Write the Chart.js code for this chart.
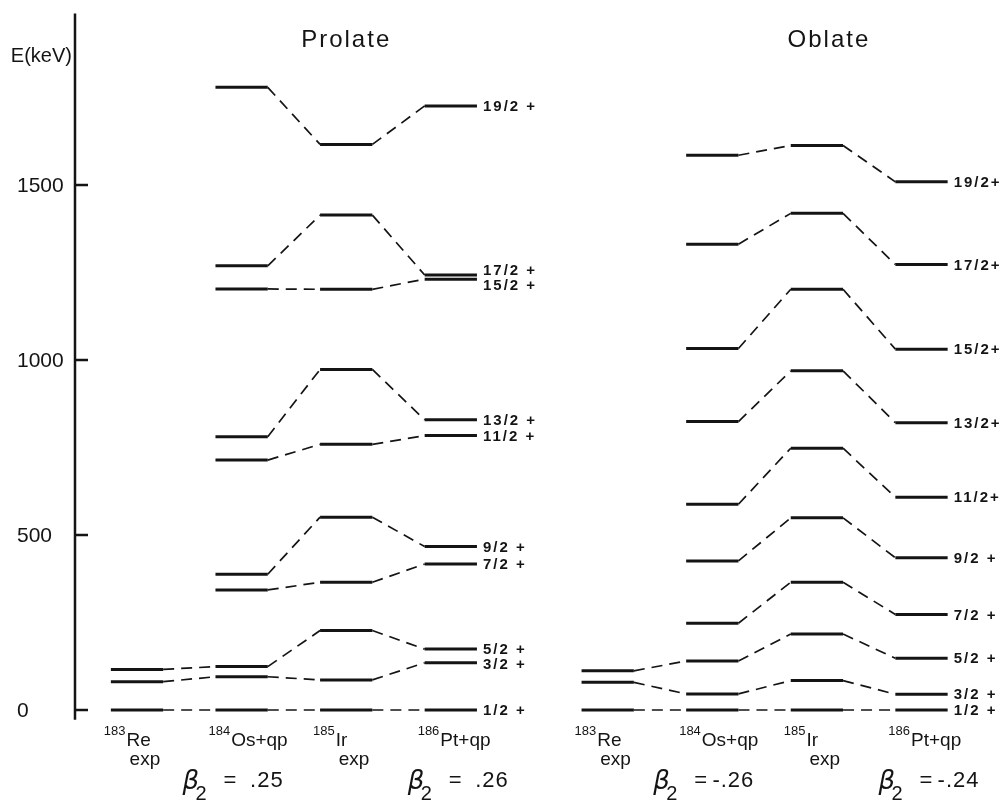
<!DOCTYPE html>
<html>
<head>
<meta charset="utf-8">
<title>Level systematics</title>
<script src="https://cdn.jsdelivr.net/npm/chart.js@4.4.0/dist/chart.umd.min.js"></script>
<style>
  html, body { margin: 0; padding: 0; background: #fff; }
  #wrap { position: relative; width: 1008px; height: 803px; }
</style>
</head>
<body>
<div id="wrap"><canvas id="levels"></canvas></div>
<script>
// ============================================================================
//  Level scheme: 183Re / 184Os+qp / 185Ir / 186Pt+qp, prolate vs oblate
// ============================================================================

// === Data (keV; null = level not shown) =====================================
const spins = ["1/2", "3/2", "5/2", "7/2", "9/2", "11/2", "13/2", "15/2", "17/2", "19/2"];
const prolateLabels = ["1/2 +", "3/2 +", "5/2 +", "7/2 +", "9/2 +", "11/2 +", "13/2 +", "15/2 +", "17/2 +", "19/2 +"];
const oblateLabels = ["1/2 +", "3/2 +", "5/2 +", "7/2 +", "9/2 +", "11/2+", "13/2+", "15/2+", "17/2+", "19/2+"];

const prolateRe = [0, 81, 116, null, null, null, null, null, null, null];
const prolateOs = [0, 95, 124, 343, 388, 714, 781, 1203, 1269, 1779];
const prolateIr = [0, 86, 227, 365, 551, 759, 973, 1202, 1414, 1616];
const prolatePt = [0, 135, 174, 417, 467, 784, 829, 1231, 1243, 1726];

const oblateRe = [0, 79, 112, null, null, null, null, null, null, null];
const oblateOs = [0, 46, 140, 248, 426, 588, 824, 1033, 1331, 1585];
const oblateIr = [0, 84, 217, 365, 549, 748, 969, 1202, 1419, 1613];
const oblatePt = [0, 45, 148, 273, 435, 608, 821, 1031, 1273, 1509];

const massNumbers = ["183", "184", "185", "186"];
const nuclei = ["Re", "Os+qp", "Ir", "Pt+qp"];
const nucleiNotes = ["exp", "", "exp", ""];

const prolateBetas = [".25", ".26"];
const oblateBetas = ["-.26", "-.24"];

const yTicks = [0, 500, 1000, 1500];
const axisRange = [-28, 1990];

// === Layout ==================================================================
const INK = "#141414";
const FONT = "'Liberation Sans', Arial, sans-serif";
const COL_HALF = 0.25;          // half width of a level bar (column units)
const X_MIN = -1.31, X_MAX = 8.327;
const Y_MIN = -265.7, Y_MAX = 2028.6;
const AXIS_X = -0.593;
const DASH = [11, 7];

const panels = [
  { title: "Prolate", titleX: 2.0, start: 0, columns: [prolateRe, prolateOs, prolateIr, prolatePt],
    labels: prolateLabels, betas: prolateBetas },
  { title: "Oblate", titleX: 6.615, start: 4.5, columns: [oblateRe, oblateOs, oblateIr, oblatePt],
    labels: oblateLabels, betas: oblateBetas },
];
const betaCols = [1, 3];
const betaNudge = [-59, -43];

// === Datasets: one polyline per spin and panel ===============================
function buildBands(panel) {
  return spins.map((spin, s) => {
    const pts = [];
    panel.columns.forEach((col, i) => {
      const e = col[s];
      if (e == null) return;
      const cx = panel.start + i;
      pts.push({ x: cx - COL_HALF, y: e }, { x: cx + COL_HALF, y: e });
    });
    return {
      label: panel.title + " " + spin,
      data: pts,
      borderColor: INK,
      borderWidth: 2.4,
      pointRadius: 0,
      fill: false,
      tension: 0,
      segment: {
        // even segments are the levels themselves, odd ones the connectors
        borderDash: (c) => (c.p0DataIndex % 2 ? DASH : []),
        borderWidth: (c) => (c.p0DataIndex % 2 ? 1.7 : 3),
      },
    };
  });
}

// === Spread labels that would collide ========================================
function spreadLabels(ys, gap) {
  const out = ys.slice();
  for (let it = 0; it < 40; it++) {
    for (let i = 1; i < out.length; i++) {
      const d = out[i - 1] - out[i];
      if (d < gap) {
        const push = (gap - d) / 2;
        out[i - 1] += push;
        out[i] -= push;
      }
    }
  }
  return out;
}

// === Decorations: axis, labels, titles =======================================
const decorPlugin = {
  id: "decor",
  afterDatasetsDraw(chart) {
    const { ctx, scales: { x, y } } = chart;
    ctx.save();
    ctx.fillStyle = INK;
    ctx.strokeStyle = INK;

    // energy axis
    const ax = x.getPixelForValue(AXIS_X);
    ctx.lineWidth = 2.5;
    ctx.beginPath();
    ctx.moveTo(ax, y.getPixelForValue(axisRange[0]));
    ctx.lineTo(ax, y.getPixelForValue(axisRange[1]));
    ctx.stroke();

    ctx.font = "21px " + FONT;
    ctx.textBaseline = "middle";
    ctx.textAlign = "left";
    yTicks.forEach((t) => {
      const py = y.getPixelForValue(t);
      ctx.beginPath();
      ctx.moveTo(ax, py);
      ctx.lineTo(ax + 13, py);
      ctx.stroke();
      ctx.fillText(String(t), ax - 58, py + 1);
    });

    ctx.textBaseline = "alphabetic";
    ctx.textAlign = "right";
    ctx.font = "20px " + FONT;
    ctx.fillText("E(keV)", ax - 3, 62);

    panels.forEach((panel) => {
      // title
      ctx.font = "24px " + FONT;
      ctx.textAlign = "center";
      ctx.letterSpacing = "2px";
      ctx.fillText(panel.title, x.getPixelForValue(panel.titleX), 47);

      // spin labels at the right of the last column
      const last = panel.columns[panel.columns.length - 1];
      const lx = x.getPixelForValue(panel.start + panel.columns.length - 1 + COL_HALF) + 6;
      const ys = spreadLabels(last.map((e) => y.getPixelForValue(e)), 15);
      ctx.font = "bold 15px " + FONT;
      ctx.textAlign = "left";
      ctx.textBaseline = "middle";
      ctx.letterSpacing = "2px";
      panel.labels.forEach((lab, s) => ctx.fillText(lab, lx, ys[s] + 1));

      // nucleus names under the columns
      ctx.textBaseline = "alphabetic";
      ctx.letterSpacing = "0px";
      nuclei.forEach((name, i) => {
        const left = x.getPixelForValue(panel.start + i - COL_HALF) - 7;
        ctx.font = "13px " + FONT;
        ctx.fillText(massNumbers[i], left, 735);
        const mx = left + ctx.measureText(massNumbers[i]).width + 1;
        ctx.font = "19px " + FONT;
        ctx.fillText(name, mx, 746);
        if (nucleiNotes[i]) ctx.fillText(nucleiNotes[i], mx + 3, 765);
      });

      // deformation parameters
      panel.betas.forEach((val, k) => {
        const x0 = x.getPixelForValue(panel.start + betaCols[k]) + betaNudge[k];
        ctx.textAlign = "left";
        ctx.font = "italic 26px 'DejaVu Sans', " + FONT;
        ctx.fillText("\u03B2", x0, 789);
        ctx.font = "20px " + FONT;
        ctx.fillText("2", x0 + 13, 800);
        ctx.font = "22px " + FONT;
        ctx.fillText("=", x0 + 41, 787);
        ctx.textAlign = "right";
        ctx.letterSpacing = "1px";
        ctx.fillText(val, x0 + 101, 787);
        ctx.letterSpacing = "0px";
      });
    });
    ctx.restore();
  },
};

// === Chart ===================================================================
const datasets = panels.flatMap(buildBands);

new Chart(document.getElementById("levels"), {
  type: "line",
  data: { datasets },
  options: {
    responsive: true,
    maintainAspectRatio: false,
    animation: false,
    events: [],
    layout: { padding: 0 },
    scales: {
      x: { type: "linear", min: X_MIN, max: X_MAX, display: false },
      y: { type: "linear", min: Y_MIN, max: Y_MAX, display: false },
    },
    plugins: {
      legend: { display: false },
      tooltip: { enabled: false },
    },
  },
  plugins: [decorPlugin],
});
</script>
</body>
</html>
